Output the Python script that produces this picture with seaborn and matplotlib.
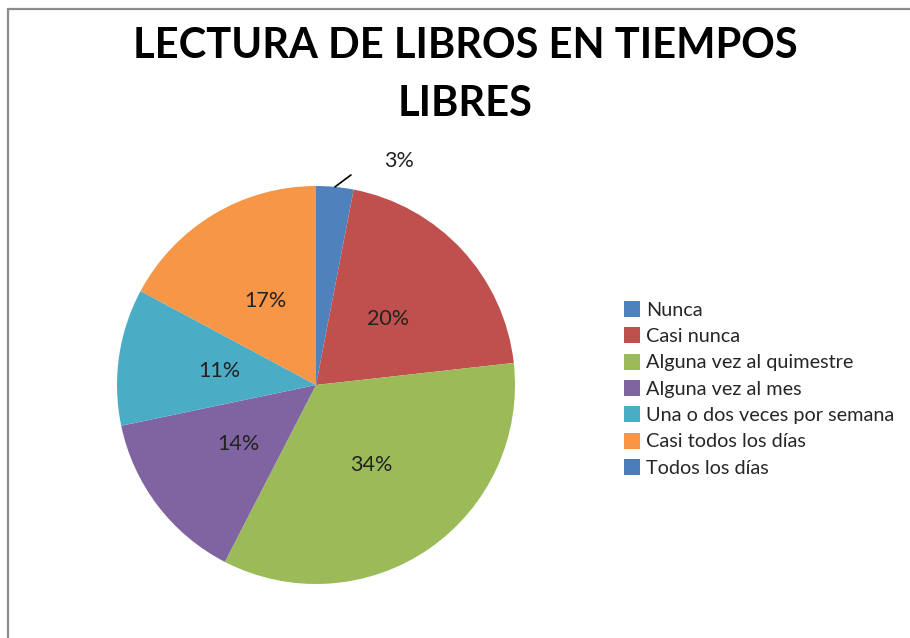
import numpy as np
import matplotlib
matplotlib.use("Agg")
import matplotlib.pyplot as plt
import seaborn as sns
from matplotlib.patches import Patch
from matplotlib.lines import Line2D

categories = ["Nunca", "Casi nunca", "Alguna vez al quimestre", "Alguna vez al mes",
              "Una o dos veces por semana", "Casi todos los días", "Todos los días"]
values = [3, 20, 34, 14, 11, 17, 0]
colors = ["#4F81BD", "#C0504D", "#9BBB59", "#8064A2", "#4BACC6", "#F79646", "#4A7EBB"]
title_lines = ["LECTURA DE LIBROS EN TIEMPOS", "LIBRES"]

sns.set_theme(style="white")
plt.rcParams["font.family"] = ["Lato", "DejaVu Sans"]

W, H = 910, 638
fig = plt.figure(figsize=(W / 100, H / 100), dpi=100)
fig.patch.set_facecolor("white")

# border lines (top and left)
fig.add_artist(Line2D([7.5 / W, 7.5 / W], [0, 1 - 9 / H], transform=fig.transFigure,
                      color="#8c8c8c", lw=1.6))
fig.add_artist(Line2D([7.5 / W, 1], [1 - 9 / H, 1 - 9 / H], transform=fig.transFigure,
                      color="#8c8c8c", lw=1.6))

cx, cy, r = 316, 385, 199
ax = fig.add_axes([(cx - r) / W, (H - cy - r) / H, 2 * r / W, 2 * r / H])
ax.axis("off")

total = sum(values)
pcts = [v / total * 100 for v in values]

wedges, _ = ax.pie(values, colors=colors, startangle=90, counterclock=False,
                   radius=1, wedgeprops=dict(linewidth=0), frame=False)
ax.set_xlim(-1, 1)
ax.set_ylim(-1, 1)

for w, p in zip(wedges, pcts):
    if p <= 0:
        continue
    mid = np.deg2rad((w.theta1 + w.theta2) / 2)
    if p < 5:
        x0, y0 = np.cos(mid), np.sin(mid)
        a2 = mid - np.deg2rad(4)
        x1, y1 = 1.07 * np.cos(a2), 1.07 * np.sin(a2)
        ax.plot([x0, x1], [y0, y1], color="black", lw=1.2, clip_on=False)
        a3 = mid - np.deg2rad(14.8)
        ax.text(1.2 * np.cos(a3), 1.2 * np.sin(a3), f"{p:.0f}%", ha="center", va="center",
                fontsize=15.5, color="#222222", clip_on=False)
    else:
        ax.text(0.49 * np.cos(mid), 0.49 * np.sin(mid), f"{p:.0f}%", ha="center",
                va="center", fontsize=15.5, color="#222222")

fig.text(465 / W, 1 - 42 / H, title_lines[0], ha="center", va="center_baseline",
         fontsize=30, fontweight="bold", color="black")
fig.text(465 / W, 1 - 100 / H, title_lines[1], ha="center", va="center_baseline",
         fontsize=30, fontweight="bold", color="black")

handles = [Patch(facecolor=c, edgecolor="none") for c in colors]
fig.legend(handles, categories, loc="upper left", bbox_to_anchor=(624 / W, 1 - 301 / H),
           frameon=False, fontsize=14.3, handlelength=0.8, handleheight=0.85,
           handletextpad=0.3, labelspacing=0.43, borderaxespad=0, borderpad=0)

fig.savefig("out.png", dpi=100, facecolor="white")
